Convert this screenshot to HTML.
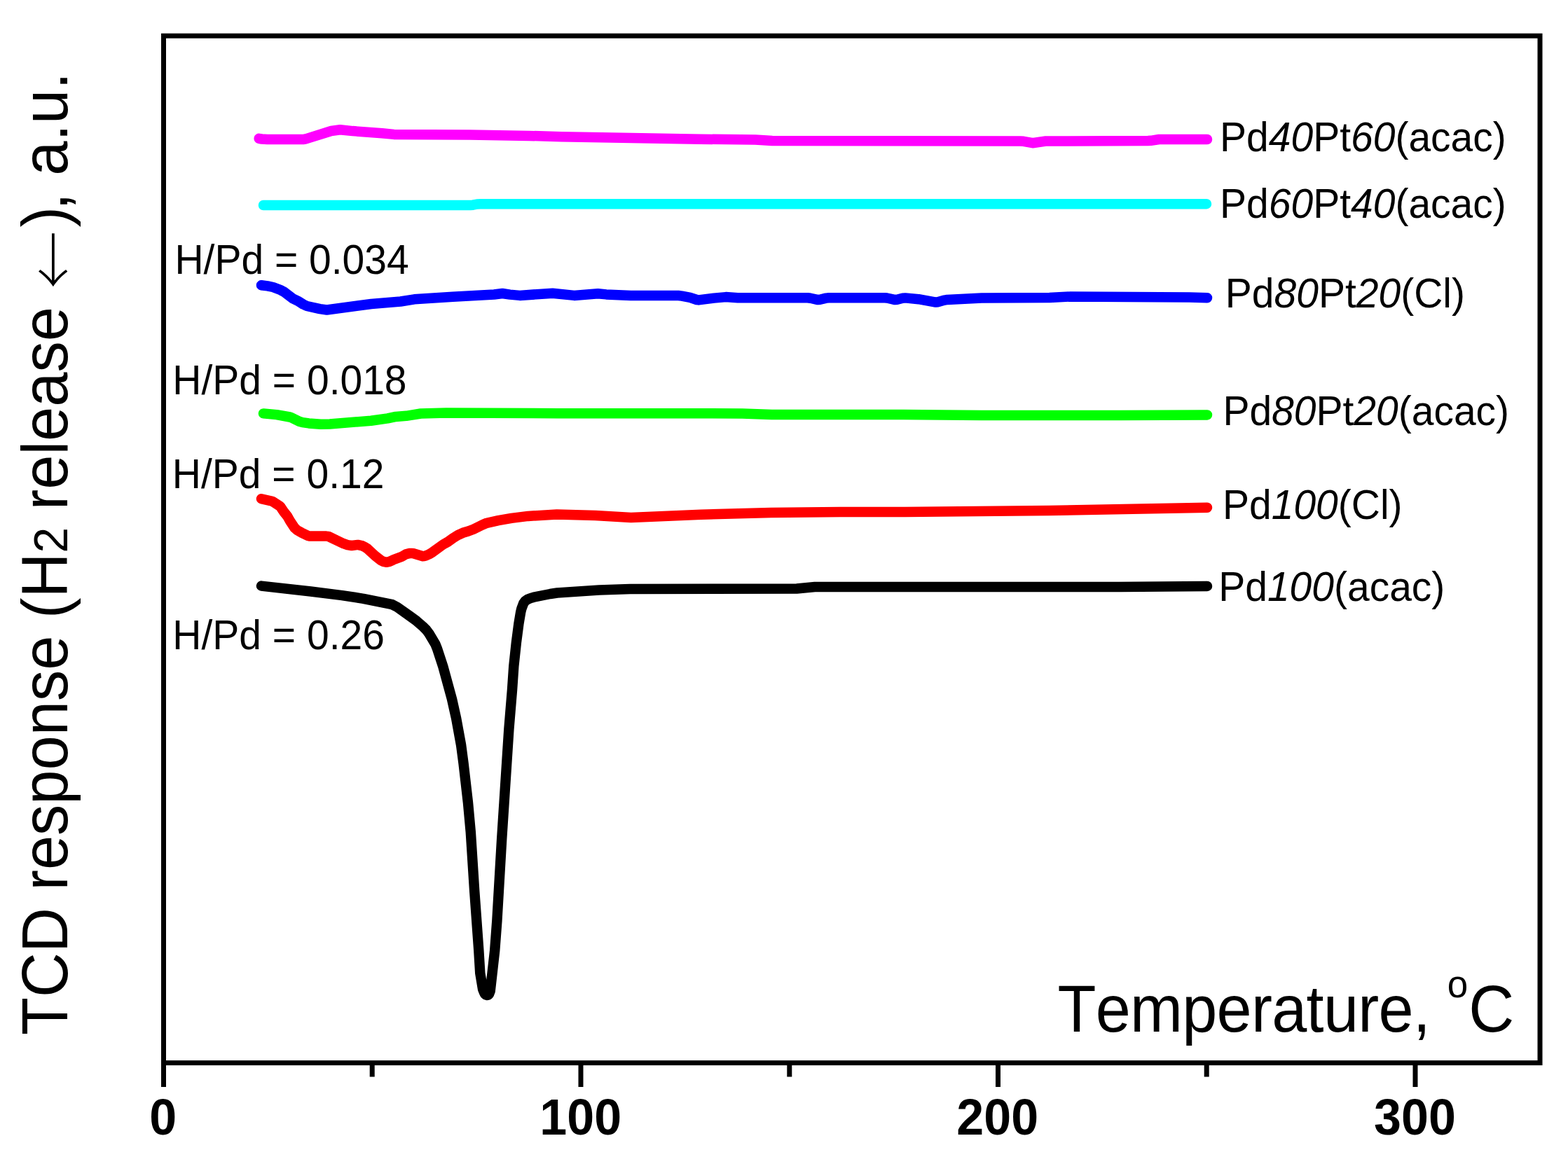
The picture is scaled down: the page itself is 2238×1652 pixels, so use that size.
<!DOCTYPE html>
<html><head><meta charset="utf-8"><title>TCD response</title>
<style>
html,body{margin:0;padding:0;background:#fff;}
body{width:2238px;height:1652px;overflow:hidden;}
svg{display:block;}
text{font-family:"Liberation Sans",Arial,sans-serif;fill:#000;font-kerning:none;}
.tl{font-weight:bold;font-size:70px;}
.lb{font-size:57px;}
.i{font-style:italic;}
.ax{font-size:90px;letter-spacing:-0.7px;}
.ay{font-size:88.5px;}
.arr{font-family:"Noto Serif CJK SC","Noto Serif CJK JP",serif;font-size:82px;}
</style></head>
<body>
<svg width="2238" height="1652" viewBox="0 0 2238 1652">
<rect x="0" y="0" width="2238" height="1652" fill="#fff"/>
<polyline points="369.7,197.8 373.6,198.5 381.6,199.0 433.6,198.9 436.5,198.3 472.7,187.0 485.5,185.2 503.4,187.1 545.3,190.2 562.2,191.9 670.2,192.5 755.2,193.9 801.2,195.2 901.2,197.0 1000.1,198.7 1078.1,199.5 1102.1,201.0 1456.1,201.5 1461.0,201.8 1473.8,204.2 1492.5,201.5 1638.5,201.0 1642.5,200.8 1654.3,199.0 1723.0,199.0" fill="none" stroke="#ff00ff" stroke-width="14.5" stroke-linejoin="round" stroke-linecap="round"/>
<polyline points="376.0,293.0 671.0,293.0 675.0,292.7 680.7,291.5 685.7,291.3 1722.0,291.2" fill="none" stroke="#00ffff" stroke-width="14.5" stroke-linejoin="round" stroke-linecap="round"/>
<polyline points="373.0,407.2 381.9,408.4 389.7,410.0 400.9,414.3 406.1,417.2 417.9,426.2 425.1,429.7 432.7,434.5 438.1,437.0 456.6,441.1 466.5,442.5 529.9,434.0 571.7,430.5 591.4,427.3 646.3,423.7 705.2,420.5 717.1,419.0 727.9,420.6 741.8,421.9 788.7,418.7 819.5,421.9 853.4,419.2 865.3,420.4 900.2,422.0 968.2,422.0 973.2,422.6 985.0,424.9 994.4,428.0 997.2,428.4 1019.0,425.6 1035.9,424.1 1052.9,425.2 1152.9,425.2 1156.8,425.7 1167.5,428.1 1170.4,427.8 1179.1,425.6 1183.0,425.2 1263.0,425.2 1266.0,425.5 1277.6,428.1 1280.5,427.8 1288.2,425.8 1292.2,425.4 1311.1,427.2 1335.6,431.6 1338.5,431.2 1348.1,428.6 1352.1,427.9 1401.0,425.5 1498.0,425.0 1527.9,423.5 1697.9,424.5 1723.0,425.2" fill="none" stroke="#0000ff" stroke-width="14.5" stroke-linejoin="round" stroke-linecap="round"/>
<polyline points="376.0,590.4 394.9,592.1 413.6,595.5 416.4,596.4 427.1,601.7 431.9,603.1 440.8,604.4 457.7,605.8 470.7,605.4 529.5,600.8 553.3,597.4 565.0,594.9 579.9,593.8 600.6,590.5 636.6,589.5 796.6,590.2 1002.6,590.2 1059.6,590.5 1101.6,592.0 1289.6,592.0 1400.6,593.0 1599.6,593.0 1723.0,592.5" fill="none" stroke="#00ff00" stroke-width="14.5" stroke-linejoin="round" stroke-linecap="round"/>
<polyline points="373.0,712.2 388.5,715.7 399.3,722.6 400.6,723.9 405.6,731.4 410.0,736.8 413.9,743.7 420.5,753.7 424.1,757.0 430.2,760.4 439.1,764.8 441.0,765.4 465.9,765.6 468.8,765.9 490.4,776.2 496.0,778.1 501.9,779.0 510.7,777.9 517.4,779.4 521.0,781.2 524.3,783.4 535.3,793.5 543.9,800.2 547.4,801.9 551.2,802.8 555.9,801.8 561.4,799.3 573.5,794.7 579.5,791.3 584.3,790.1 587.2,789.9 590.2,790.3 603.5,794.2 605.4,794.1 608.2,793.3 612.7,791.2 617.0,788.7 632.4,777.5 639.3,773.6 646.6,768.3 653.4,764.1 660.6,760.8 668.3,758.5 675.7,755.7 688.3,749.5 694.7,746.8 711.3,743.2 730.0,739.9 753.8,736.9 794.7,734.6 849.7,736.0 900.6,738.9 1000.5,734.7 1100.5,732.0 1199.5,731.0 1291.5,731.0 1497.5,729.0 1723.0,724.8" fill="none" stroke="#ff0000" stroke-width="14.5" stroke-linejoin="round" stroke-linecap="round"/>
<polyline points="373.0,836.6 443.5,844.5 488.2,850.1 518.8,854.8 559.9,863.2 567.0,866.9 584.1,879.0 594.6,886.7 603.0,893.9 608.6,899.5 612.2,904.3 621.4,919.8 624.0,926.2 632.1,950.9 645.0,998.2 651.1,1025.5 658.1,1063.9 661.5,1089.6 668.0,1146.3 671.8,1188.1 677.1,1270.9 683.3,1356.7 685.3,1389.6 689.1,1412.3 690.9,1416.9 692.2,1419.4 693.6,1420.5 695.3,1420.9 696.8,1420.6 698.0,1419.4 699.7,1414.9 706.2,1357.3 709.4,1314.4 716.2,1197.6 726.4,1040.9 731.0,985.1 733.3,951.2 736.9,917.4 740.4,890.6 743.2,873.9 744.4,869.0 747.2,861.5 749.4,858.4 752.6,856.0 757.1,854.1 761.9,852.7 785.4,848.0 795.3,846.5 855.2,842.5 899.2,841.0 1137.2,840.5 1163.0,838.0 1598.0,838.0 1723.0,837.0" fill="none" stroke="#000000" stroke-width="14.5" stroke-linejoin="round" stroke-linecap="round"/>
<rect x="233.5" y="51.2" width="1964.5" height="1466.4" fill="none" stroke="#000" stroke-width="7"/>
<line x1="233.5" y1="1517" x2="233.5" y2="1552" stroke="#000" stroke-width="7"/>
<line x1="829.0" y1="1517" x2="829.0" y2="1552" stroke="#000" stroke-width="7"/>
<line x1="1424.5" y1="1517" x2="1424.5" y2="1552" stroke="#000" stroke-width="7"/>
<line x1="2020.0" y1="1517" x2="2020.0" y2="1552" stroke="#000" stroke-width="7"/>
<line x1="531.2" y1="1517" x2="531.2" y2="1537.5" stroke="#000" stroke-width="7"/>
<line x1="1126.8" y1="1517" x2="1126.8" y2="1537.5" stroke="#000" stroke-width="7"/>
<line x1="1722.2" y1="1517" x2="1722.2" y2="1537.5" stroke="#000" stroke-width="7"/>
<text transform="translate(232.8,1620.4) scale(1,1.0412)" text-anchor="middle" class="tl">0</text>
<text transform="translate(828.7,1620.4) scale(1,1.0412)" text-anchor="middle" class="tl">100</text>
<text transform="translate(1423.7,1620.4) scale(1,1.0412)" text-anchor="middle" class="tl">200</text>
<text transform="translate(2019.5,1620.4) scale(1,1.0412)" text-anchor="middle" class="tl">300</text>
<text transform="translate(1741.1,215.9) scale(1,1.0412)" class="lb">Pd<tspan class="i">40</tspan>Pt<tspan class="i">60</tspan>(acac)</text>
<text transform="translate(1741.1,311.3) scale(1,1.0412)" class="lb">Pd<tspan class="i">60</tspan>Pt<tspan class="i">40</tspan>(acac)</text>
<text transform="translate(1748.8,438.5) scale(1,1.0412)" class="lb">Pd<tspan class="i">80</tspan>Pt<tspan class="i">20</tspan>(Cl)</text>
<text transform="translate(1745.4,607.0) scale(1,1.0412)" class="lb">Pd<tspan class="i">80</tspan>Pt<tspan class="i">20</tspan>(acac)</text>
<text transform="translate(1745.0,741.0) scale(1,1.0412)" class="lb">Pd<tspan class="i">100</tspan>(Cl)</text>
<text transform="translate(1739.2,857.6) scale(1,1.0412)" class="lb">Pd<tspan class="i">100</tspan>(acac)</text>
<text transform="translate(249.4,390.8) scale(1,1.0412)" class="lb">H/Pd = 0.034</text>
<text transform="translate(246.3,562.6) scale(1,1.0412)" class="lb">H/Pd = 0.018</text>
<text transform="translate(245.8,696.6) scale(1,1.0412)" class="lb">H/Pd = 0.12</text>
<text transform="translate(246.3,926.6) scale(1,1.0412)" class="lb">H/Pd = 0.26</text>
<text transform="translate(1509.4,1472.6) scale(1,1.0412)" class="ax">Temperature, <tspan x="556.4" y="-46.8" font-size="53">o</tspan><tspan x="586.8" y="0">C</tspan></text>
<text transform="translate(96.3,1478) rotate(-90) scale(1,1.0412)" class="ay">TCD response (H<tspan font-size="66">2</tspan> release <tspan x="1066" dy="11" class="arr">←</tspan><tspan x="1153.5" dy="-11">)</tspan><tspan x="1178">, a.u.</tspan></text>
</svg>
</body></html>
